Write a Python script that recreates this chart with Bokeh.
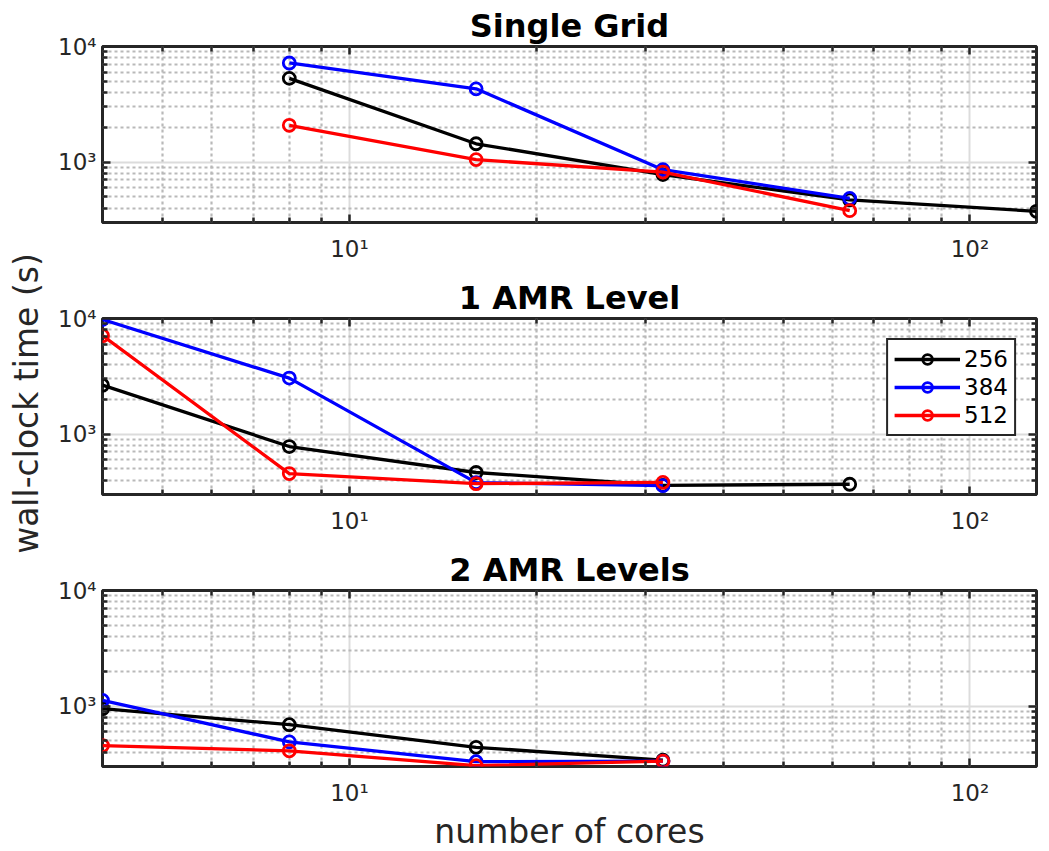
from bokeh.plotting import figure
from bokeh.layouts import column, row
from bokeh.models import (Range1d, FixedTicker, LogAxis, CustomJSTickFormatter,
                          Legend, LegendItem, Label)
from bokeh.embed import file_html
from bokeh.resources import INLINE

# ---------------- data ----------------
series_names = ["256", "384", "512"]
series_colors = ["#000000", "#0000ff", "#ff0000"]

# Single Grid
sg_cores_256 = [8, 16, 32, 64, 128]
sg_time_256 = [5300, 1440, 780, 470, 375]
sg_cores_384 = [8, 16, 32, 64]
sg_time_384 = [7200, 4300, 860, 485]
sg_cores_512 = [8, 16, 32, 64]
sg_time_512 = [2080, 1050, 820, 380]

# 1 AMR Level
a1_cores_256 = [4, 8, 16, 32, 64]
a1_time_256 = [2650, 780, 465, 360, 368]
a1_cores_384 = [4, 8, 16, 32]
a1_time_384 = [9800, 3050, 380, 358]
a1_cores_512 = [4, 8, 16, 32]
a1_time_512 = [7100, 455, 372, 382]

# 2 AMR Levels
a2_cores_256 = [4, 8, 16, 32]
a2_time_256 = [950, 690, 440, 340]
a2_cores_384 = [4, 8, 16, 32]
a2_time_384 = [1120, 490, 330, 334]
a2_cores_512 = [4, 8, 16, 32]
a2_time_512 = [455, 410, 305, 334]

panel_titles = ["Single Grid", "1 AMR Level", "2 AMR Levels"]
y_title = "wall-clock time (s)"
x_title = "number of cores"

x_major = [10, 100]
x_minor = [5, 6, 7, 8, 9, 20, 30, 40, 50, 60, 70, 80, 90]
x_labels = ["10\u00b9", "10\u00b2"]
y_major = [1000, 10000]
y_minor = [300, 400, 500, 600, 700, 800, 900,
           2000, 3000, 4000, 5000, 6000, 7000, 8000, 9000]
y_labels = ["10\u00b3", "10\u2074"]

x_limits = (4, 128)
y_limits = (300, 10000)

FONT = "DejaVu Sans"
DARK = "#262626"

LABEL_W = 45
BORDERS = [(46, 46), (50, 46), (50, 74)]
FRAME_H = 176
TOTAL_H = sum(t + b + FRAME_H for t, b in BORDERS)


def label_formatter(tick_values, tick_labels):
    return CustomJSTickFormatter(
        args=dict(tvals=tick_values, tlabs=tick_labels),
        code="const i = tvals.indexOf(tick); return i >= 0 ? tlabs[i] : '';")


def style_axis(ax, tick_values, minor, tick_labels, show_labels):
    ax.ticker = FixedTicker(ticks=tick_values, minor_ticks=minor)
    ax.major_tick_in = 8
    ax.major_tick_out = 0
    ax.minor_tick_in = 5
    ax.minor_tick_out = 0
    ax.major_tick_line_color = DARK
    ax.major_tick_line_width = 2.5
    ax.minor_tick_line_color = DARK
    ax.minor_tick_line_width = 2.5
    ax.axis_line_color = None
    if show_labels:
        ax.formatter = label_formatter(tick_values, tick_labels)
        ax.major_label_text_font = FONT
        ax.major_label_text_font_size = "23px"
        ax.major_label_text_color = DARK
    else:
        ax.formatter = CustomJSTickFormatter(code="return '';")
        ax.major_label_text_font_size = "0px"
        ax.major_label_standoff = 0


def make_panel(title, data, borders, xlabel=None, legend=False):
    border_top, border_bottom = borders
    p = figure(x_axis_type="log", y_axis_type="log",
               x_range=Range1d(*x_limits), y_range=Range1d(*y_limits),
               frame_width=934, frame_height=FRAME_H,
               min_border_left=57, min_border_right=5,
               min_border_top=border_top, min_border_bottom=border_bottom,
               toolbar_location=None, output_backend="svg",
               title=title)
    p.title.align = "center"
    p.title.text_font = FONT
    p.title.text_font_size = "32px"
    p.title.text_font_style = "bold"
    p.title.text_color = "#000000"
    p.title.standoff = 4

    xa = p.below[0]
    ya = p.left[0]
    style_axis(xa, x_major, x_minor, x_labels, True)
    style_axis(ya, y_major, y_minor, y_labels, True)
    xa.major_label_standoff = 13
    ya.major_label_standoff = 6

    if xlabel:
        xa.axis_label = xlabel
        xa.axis_label_text_font = FONT
        xa.axis_label_text_font_size = "33px"
        xa.axis_label_text_font_style = "normal"
        xa.axis_label_text_color = DARK
        xa.axis_label_standoff = 3

    top = LogAxis()
    style_axis(top, x_major, x_minor, x_labels, False)
    p.add_layout(top, "above")
    right = LogAxis()
    style_axis(right, y_major, y_minor, y_labels, False)
    p.add_layout(right, "right")

    for g in (p.xgrid, p.ygrid):
        g.grid_line_color = "#dcdcdc"
        g.grid_line_width = 2
        g.minor_grid_line_color = "#b9b9b9"
        g.minor_grid_line_width = 2.2
        g.minor_grid_line_dash = "3 3"
    p.xgrid.ticker = xa.ticker
    p.ygrid.ticker = ya.ticker

    p.outline_line_color = DARK
    p.outline_line_width = 3
    p.outline_line_alpha = 1.0
    p.background_fill_color = "white"
    p.border_fill_color = "white"

    items = []
    for (xs, ys), name, color in zip(data, series_names, series_colors):
        ln = p.line(xs, ys, line_color=color, line_width=3.3)
        mk = p.scatter(xs, ys, marker="circle", size=12, line_color=color,
                       line_width=2.8, fill_color=None)
        items.append(LegendItem(label=name, renderers=[ln, mk]))

    if legend:
        lg = Legend(items=items, location="top_right", margin=20,
                    padding=6, spacing=2, glyph_width=66, glyph_height=24,
                    label_standoff=4, label_text_font=FONT,
                    label_text_font_size="23px", label_text_color="#000000",
                    border_line_color=DARK, border_line_width=2.5,
                    border_line_alpha=1.0,
                    background_fill_color="white", background_fill_alpha=1.0)
        p.add_layout(lg)
    return p


p1 = make_panel(panel_titles[0],
                [(sg_cores_256, sg_time_256), (sg_cores_384, sg_time_384),
                 (sg_cores_512, sg_time_512)], BORDERS[0])
p2 = make_panel(panel_titles[1],
                [(a1_cores_256, a1_time_256), (a1_cores_384, a1_time_384),
                 (a1_cores_512, a1_time_512)], BORDERS[1], legend=True)
p3 = make_panel(panel_titles[2],
                [(a2_cores_256, a2_time_256), (a2_cores_384, a2_time_384),
                 (a2_cores_512, a2_time_512)], BORDERS[2], xlabel=x_title)

# shared y-axis title in a narrow strip on the left
lab = figure(width=LABEL_W, height=TOTAL_H, x_range=Range1d(0, LABEL_W),
             y_range=Range1d(0, TOTAL_H), min_border=0,
             x_axis_location=None, y_axis_location=None,
             toolbar_location=None, output_backend="svg")
lab.grid.visible = False
lab.outline_line_color = None
lab.add_layout(Label(x=26, y=TOTAL_H - 403, text=y_title, angle=90,
                     angle_units="deg", text_align="center",
                     text_baseline="middle", text_font=FONT,
                     text_font_size="33px", text_color=DARK))

layout = row(lab, column(p1, p2, p3, spacing=0), spacing=0)

open("out.html", "w").write(file_html(layout, INLINE))
